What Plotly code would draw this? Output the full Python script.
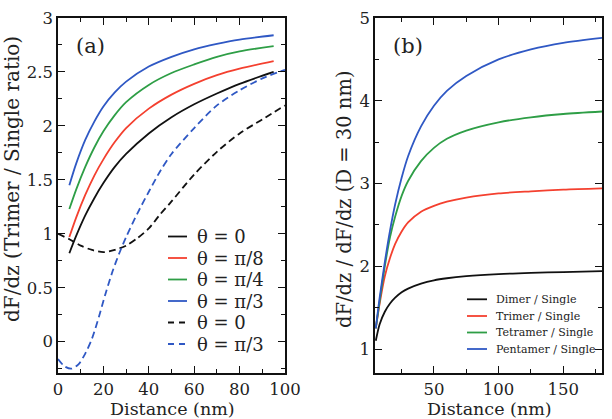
import plotly.graph_objects as go

W, H = 612, 419

# ---------------- Panel (a) data ----------------
xa_solid = [5, 8, 12, 16, 20, 25, 30, 40, 50, 60, 70, 80, 95]
ya_t0 = [0.82, 0.98, 1.17, 1.33, 1.47, 1.62, 1.74, 1.93, 2.08, 2.20, 2.30, 2.39, 2.50]
ya_pi8 = [0.97, 1.15, 1.36, 1.54, 1.69, 1.85, 1.98, 2.16, 2.29, 2.39, 2.47, 2.53, 2.60]
ya_pi4 = [1.23, 1.41, 1.62, 1.80, 1.95, 2.10, 2.22, 2.38, 2.49, 2.57, 2.64, 2.69, 2.74]
ya_pi3 = [1.45, 1.65, 1.87, 2.04, 2.18, 2.31, 2.41, 2.55, 2.64, 2.71, 2.76, 2.80, 2.84]

xa_dash0 = [0, 5, 10, 15, 20, 25, 30, 35, 40, 45, 50, 60, 70, 80, 90, 100]
ya_dash0 = [1.00, 0.95, 0.89, 0.85, 0.83, 0.85, 0.89, 0.96, 1.05, 1.18, 1.30, 1.55, 1.76, 1.93, 2.06, 2.19]

xa_dash3 = [0, 3, 6, 9, 12, 15, 18, 21, 24, 27, 30, 35, 40, 45, 50, 60, 70, 80, 90, 100]
ya_dash3 = [-0.16, -0.23, -0.25, -0.21, -0.11, 0.03, 0.23, 0.45, 0.65, 0.82, 0.97, 1.19,
            1.39, 1.58, 1.74, 1.98, 2.19, 2.33, 2.44, 2.52]

labels_a = ["θ = 0", "θ = π/8", "θ = π/4", "θ = π/3", "θ = 0", "θ = π/3"]

# ---------------- Panel (b) data ----------------
xb = [5, 8, 12, 16, 20, 25, 30, 40, 50, 60, 75, 100, 125, 150, 180]
yb_dimer = [1.10, 1.30, 1.45, 1.55, 1.62, 1.685, 1.73, 1.79, 1.83, 1.855, 1.88, 1.905, 1.92, 1.93, 1.94]
yb_trimer = [1.25, 1.55, 1.88, 2.10, 2.27, 2.42, 2.53, 2.66, 2.73, 2.78, 2.83, 2.88, 2.905, 2.925, 2.94]
yb_tetramer = [1.25, 1.58, 2.00, 2.35, 2.60, 2.85, 3.03, 3.27, 3.43, 3.54, 3.64, 3.74, 3.80, 3.84, 3.87]
yb_pentamer = [1.25, 1.62, 2.05, 2.43, 2.75, 3.07, 3.33, 3.69, 3.94, 4.12, 4.30, 4.50, 4.62, 4.70, 4.76]

labels_b = ["Dimer / Single", "Trimer / Single", "Tetramer / Single", "Pentamer / Single"]

BLACK = "#111111"
RED = "#f4402f"
GREEN = "#2e9e46"
BLUE = "#2f58c4"
DASH = "7px,4px"
LW = 1.8
FONT = "DejaVu Serif"
TXT = "#222"


def px(x):
    return x / W


def py(y):
    return 1 - y / H


fig = go.Figure()

series_a = [
    (xa_solid, ya_t0, BLACK, "solid"),
    (xa_solid, ya_pi8, RED, "solid"),
    (xa_solid, ya_pi4, GREEN, "solid"),
    (xa_solid, ya_pi3, BLUE, "solid"),
    (xa_dash0, ya_dash0, BLACK, DASH),
    (xa_dash3, ya_dash3, BLUE, DASH),
]
for (xs, ys, c, d), name in zip(series_a, labels_a):
    fig.add_trace(go.Scatter(x=xs, y=ys, mode="lines", name=name,
                             line=dict(color=c, width=LW, dash=d, shape="spline", smoothing=0.8),
                             xaxis="x", yaxis="y", showlegend=False))

series_b = [
    (yb_dimer, BLACK),
    (yb_trimer, RED),
    (yb_tetramer, GREEN),
    (yb_pentamer, BLUE),
]
for (ys, c), name in zip(series_b, labels_b):
    fig.add_trace(go.Scatter(x=xb, y=ys, mode="lines", name=name,
                             line=dict(color=c, width=LW, shape="spline", smoothing=0.8),
                             xaxis="x2", yaxis="y2", showlegend=False))

axis_common = dict(
    showline=True, linecolor="#111", linewidth=1.5, mirror="ticks",
    ticks="inside", ticklen=7, tickwidth=1.3, tickcolor="#111",
    showgrid=False, zeroline=False, automargin=False,
    tickfont=dict(family=FONT, size=16.5, color=TXT),
)

ydom = [py(373), py(18)]

fig.update_layout(
    width=W, height=H,
    margin=dict(l=0, r=0, t=0, b=0, autoexpand=False),
    paper_bgcolor="white", plot_bgcolor="white",
    font=dict(family=FONT),
    showlegend=False,
    xaxis=dict(domain=[px(58), px(285)], range=[0, 100], tickvals=[0, 20, 40, 60, 80, 100],
               minor=dict(dtick=10, tick0=0, ticklen=4, ticks="inside", tickcolor="#111"),
               anchor="y", **axis_common),
    yaxis=dict(domain=ydom, range=[-0.29, 3], tickvals=[0, 0.5, 1, 1.5, 2, 2.5, 3],
               minor=dict(dtick=0.25, tick0=0, ticklen=4, ticks="inside", tickcolor="#111"),
               anchor="x", **axis_common),
    xaxis2=dict(domain=[px(375), px(602)], range=[4.4, 180], tickvals=[50, 100, 150],
                minor=dict(dtick=25, tick0=0, ticklen=4, ticks="inside", tickcolor="#111"),
                anchor="y2", **axis_common),
    yaxis2=dict(domain=ydom, range=[0.71, 5], tickvals=[1, 2, 3, 4, 5],
                minor=dict(dtick=0.5, tick0=0, ticklen=4, ticks="inside", tickcolor="#111"),
                anchor="x2", **axis_common),
)

ann = []
shapes = []


def text(x, y, s, size, angle=0, xanchor="center"):
    ann.append(dict(x=px(x), y=py(y), text=s, showarrow=False, textangle=angle,
                    xref="paper", yref="paper", xanchor=xanchor, yanchor="middle",
                    font=dict(family=FONT, size=size, color=TXT)))


# axis titles
text(172, 408.5, "Distance (nm)", 17.5)
text(489, 408.5, "Distance (nm)", 17.5)
text(12, 179, "dF/dz (Trimer / Single ratio)", 20, angle=-90)
text(344, 199, "dF/dz / dF/dz (D = 30 nm)", 19.5, angle=-90)
# panel labels
text(90, 46, "(a)", 21)
text(408, 46, "(b)", 21)

# legend (a)
rows_a = [236.5, 258, 279.5, 301, 322.5, 344]
for (xs, ys, c, d), name, ry in zip(series_a, labels_a, rows_a):
    shapes.append(dict(type="line", xref="paper", yref="paper",
                       x0=px(168), x1=px(187), y0=py(ry), y1=py(ry),
                       line=dict(color=c, width=LW, dash=("solid" if d == "solid" else "6px,5px"))))
    text(195, ry, name, 18, xanchor="left")

# legend (b)
rows_b = [299.3, 316, 332.5, 349]
for (ys, c), name, ry in zip(series_b, labels_b, rows_b):
    shapes.append(dict(type="line", xref="paper", yref="paper",
                       x0=px(467), x1=px(487), y0=py(ry), y1=py(ry),
                       line=dict(color=c, width=LW)))
    text(494, ry, name, 11, xanchor="left")

fig.update_layout(annotations=ann, shapes=shapes)

fig.write_html("out.html")
